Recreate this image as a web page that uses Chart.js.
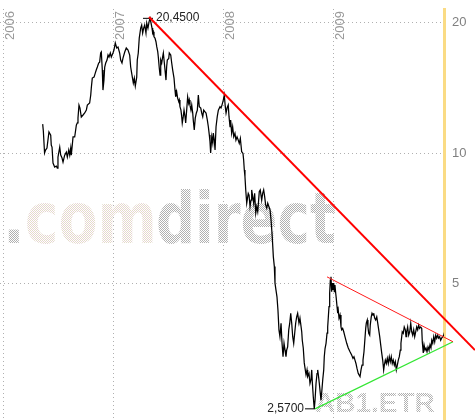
<!DOCTYPE html>
<html>
<head>
<meta charset="utf-8">
<script src="https://cdn.jsdelivr.net/npm/chart.js@4"></script>
<style>
  html, body { margin: 0; padding: 0; background: #fff; }
  #wrap { width: 475px; height: 420px; position: relative; }
</style>
</head>
<body>
<div id="wrap"><canvas id="chart_canvas"></canvas></div>
<script>
// daily closes, time as decimal year
const priceT = [
2006.358,2006.364,2006.375,2006.384,2006.397,2006.415,2006.431,2006.436,2006.443,2006.452,
2006.467,2006.482,2006.491,2006.497,2006.513,2006.522,2006.534,2006.543,2006.558,2006.573,
2006.582,2006.595,2006.604,2006.613,2006.618,2006.627,2006.634,2006.649,2006.664,2006.673,
2006.679,2006.688,2006.697,2006.709,2006.725,2006.740,2006.755,2006.764,2006.785,2006.795,
2006.800,2006.809,2006.825,2006.836,2006.845,2006.855,2006.867,2006.876,2006.885,2006.891,
2006.900,2006.906,2006.915,2006.922,2006.931,2006.943,2006.952,2006.961,2006.973,2006.982,
2006.997,2007.006,2007.018,2007.031,2007.043,2007.058,2007.067,2007.079,2007.088,2007.104,
2007.118,2007.134,2007.149,2007.158,2007.167,2007.182,2007.191,2007.200,2007.213,2007.218,
2007.227,2007.236,2007.249,2007.258,2007.267,2007.276,2007.285,2007.297,2007.304,2007.315,
2007.325,2007.334,2007.343,2007.352,2007.358,2007.364,2007.370,2007.379,2007.388,2007.395,
2007.404,2007.409,2007.418,2007.425,2007.431,2007.440,2007.449,2007.455,2007.464,2007.473,
2007.479,2007.485,2007.491,2007.504,2007.509,2007.522,2007.531,2007.540,2007.552,2007.561,
2007.567,2007.576,2007.585,2007.595,2007.600,2007.606,2007.615,2007.622,2007.627,2007.636,
2007.643,2007.652,2007.658,2007.667,2007.676,2007.685,2007.691,2007.697,2007.706,2007.713,
2007.722,2007.727,2007.736,2007.745,2007.755,2007.764,2007.773,2007.782,2007.795,2007.804,
2007.813,2007.822,2007.834,2007.843,2007.855,2007.864,2007.873,2007.879,2007.885,2007.895,
2007.904,2007.909,2007.918,2007.925,2007.934,2007.945,2007.955,2007.970,2007.979,2007.988,
2008.000,2008.009,2008.018,2008.025,2008.034,2008.045,2008.052,2008.061,2008.067,2008.076,
2008.085,2008.095,2008.106,2008.115,2008.125,2008.136,2008.145,2008.155,2008.167,2008.179,
2008.185,2008.191,2008.197,2008.204,2008.213,2008.222,2008.227,2008.234,2008.243,2008.252,
2008.258,2008.267,2008.276,2008.285,2008.295,2008.304,2008.313,2008.318,2008.327,2008.336,
2008.349,2008.358,2008.367,2008.376,2008.385,2008.395,2008.404,2008.415,2008.425,2008.434,
2008.445,2008.455,2008.464,2008.470,2008.479,2008.488,2008.497,2008.506,2008.515,2008.525,
2008.534,2008.543,2008.552,2008.561,2008.570,2008.576,2008.585,2008.595,2008.604,2008.613,
2008.622,2008.631,2008.640,2008.649,2008.658,2008.667,2008.676,2008.688,2008.697,2008.713,
2008.718,2008.727,2008.736,2008.743,2008.752,2008.761,2008.767,2008.779,2008.788,2008.797,
2008.804,2008.809,2008.818,2008.827,2008.834,2008.843,2008.852,2008.858,2008.864,2008.873,
2008.882,2008.888,2008.895,2008.904,2008.913,2008.918,2008.925,2008.934,2008.943,2008.949,
2008.955,2008.961,2008.967,2008.973,2008.979,2008.985,2008.991,2008.997,2009.004,2009.009,
2009.015,2009.022,2009.027,2009.034,2009.040,2009.045,2009.052,2009.061,2009.070,2009.076,
2009.085,2009.095,2009.106,2009.122,2009.136,2009.152,2009.167,2009.179,2009.188,2009.197,
2009.206,2009.215,2009.227,2009.243,2009.252,2009.261,2009.270,2009.279,2009.288,2009.295,
2009.300,2009.309,2009.315,2009.322,2009.331,2009.336,2009.345,2009.352,2009.361,2009.367,
2009.376,2009.385,2009.395,2009.404,2009.413,2009.422,2009.431,2009.440,2009.449,2009.458,
2009.464,2009.473,2009.482,2009.491,2009.500,2009.509,2009.518,2009.527,2009.536,2009.545,
2009.555,2009.564,2009.573,2009.582,2009.591,2009.600,2009.609,2009.615,2009.622,2009.627,
2009.636,2009.645,2009.655,2009.661,2009.667,2009.676,2009.685,2009.695,2009.704,2009.713,
2009.722,2009.731,2009.740,2009.749,2009.758,2009.767,2009.776,2009.785,2009.795,2009.804,
2009.809,2009.818,2009.825,2009.834,2009.843,2009.852,2009.861,2009.870,2009.879,2009.888,
2009.895,2009.904,2009.913,2009.922,2009.931,2009.940,2009.949,2009.958,2009.967,2009.976,
2009.985,2009.995,2010.004,2010.013,2010.018,2010.022
];
const priceV = [
11.66,11.24,10.00,10.16,10.27,11.18,11.00,10.43,10.32,9.48,
9.28,9.33,9.23,9.79,10.32,9.89,9.74,9.53,9.89,10.05,
9.79,10.16,9.89,10.27,9.89,10.43,10.89,10.89,11.60,11.73,
12.04,12.90,12.70,12.11,12.24,12.37,12.57,12.90,13.04,13.61,
14.12,14.89,14.97,15.29,15.54,15.79,16.13,16.21,17.01,17.10,
15.54,13.97,14.73,15.79,16.13,16.39,16.83,16.65,17.01,16.65,
17.01,17.28,17.94,17.47,17.56,17.01,16.39,16.13,16.56,17.10,
17.47,17.28,16.83,15.79,15.29,14.50,14.89,14.27,14.97,16.39,
17.01,18.42,19.42,19.73,18.91,19.42,19.73,18.91,19.95,19.42,
20.08,20.45,19.95,19.42,18.91,19.04,18.54,18.42,18.06,17.59,
17.13,16.68,15.71,15.13,16.39,16.13,16.68,17.01,16.13,15.29,
14.73,15.81,16.39,16.53,17.01,16.83,16.13,15.54,14.89,13.97,
13.48,13.85,13.39,13.13,13.25,12.79,12.56,12.13,11.73,12.13,
12.56,12.13,11.73,12.56,13.48,13.04,13.25,12.90,12.56,12.90,
12.37,11.91,11.30,12.04,12.37,12.56,13.61,12.79,12.70,12.37,
12.13,12.56,12.45,12.37,11.91,11.50,11.00,10.62,10.00,10.90,
10.55,11.12,10.71,10.16,11.50,12.13,12.56,12.79,12.70,12.90,
13.25,13.61,12.79,12.37,12.70,12.90,12.13,11.50,11.91,11.12,
11.50,10.90,11.10,10.71,10.90,10.71,10.53,10.81,10.07,9.98,
9.64,9.14,8.82,8.22,7.66,7.93,8.07,8.00,7.52,7.79,
8.22,7.93,7.66,8.07,7.26,7.52,7.32,7.59,8.14,8.22,
7.79,8.07,8.22,7.93,7.59,7.46,7.66,7.52,7.39,7.01,
6.41,5.76,5.47,5.01,4.83,4.66,4.34,3.91,3.77,4.05,
3.64,3.39,3.64,3.51,3.39,3.51,3.57,3.91,4.05,4.27,
4.05,3.77,3.64,3.84,4.05,4.19,4.27,4.05,4.16,3.87,
3.70,3.55,3.28,3.19,3.08,3.16,3.05,3.10,2.94,3.00,
3.16,2.97,2.74,2.57,2.69,2.94,3.10,3.16,3.08,2.94,
2.79,2.69,2.81,3.00,3.16,3.39,3.54,3.64,3.84,3.97,
4.19,4.42,4.75,5.09,5.18,4.79,5.01,4.83,5.01,4.79,
4.96,4.75,4.62,4.42,4.27,4.34,4.16,4.23,3.97,3.91,
3.94,3.87,3.77,3.64,3.55,3.48,3.42,3.36,3.39,3.33,
3.27,3.19,3.10,3.05,3.16,3.24,3.33,3.48,3.74,3.95,
4.05,4.12,3.97,3.84,3.80,4.01,4.19,4.27,4.23,4.27,
4.16,4.12,4.19,4.05,3.91,3.77,3.61,3.46,3.33,3.16,
3.24,3.33,3.27,3.36,3.27,3.39,3.30,3.39,3.27,3.33,
3.24,3.30,3.16,3.24,3.33,3.39,3.51,3.64,3.77,3.87,
3.84,3.97,3.91,3.77,3.87,3.97,3.80,3.87,4.05,3.87,
3.80,3.91,3.77,3.87,3.97,3.91,4.01,3.94,3.97,3.94,
3.67,3.46,3.61,3.51,3.55,3.48,3.57,3.51,3.61,3.55,
3.70,3.64,3.77,3.67,3.80,3.74,3.80,3.74,3.77,3.70,
3.74,3.77,3.80,3.87,3.97,4.01
];

// trend lines
const trendT = [2007.325, 2010.288];
const trendV = [20.6, 3.51];
const wedgeTopT = [2008.943, 2010.088];
const wedgeTopV = [5.18, 3.67];
const wedgeLowT = [2008.834, 2010.088];
const wedgeLowV = [2.57, 3.67];

// high / low markers
const highT = [2007.270, 2007.361];
const highV = 20.45;
const highLabel = "20,4500";
const lowT = [2008.743, 2008.834];
const lowV = 2.57;
const lowLabel = "2,5700";

const yearTicks = [2006, 2007, 2008, 2009];
const yearLabels = ["2006", "2007", "2008", "2009"];
const priceTicks = [5, 10, 20];
const symbol = "AB1.ETR";
const brand = [".", "com", "direct"];

const sans = '"Liberation Sans", Arial, sans-serif';

function pts(ts, vs)
{
  return ts.map((t, i) => ({x: t, y: Array.isArray(vs) ? vs[i] : vs}));
}

// 2x2 checker tile, like the dithered watermark
function checker(c1, c2)
{
  const p = document.createElement("canvas");
  p.width = 2; p.height = 2;
  const g = p.getContext("2d");
  g.fillStyle = c1; g.fillRect(0, 0, 1, 1);
  g.fillStyle = c2; g.fillRect(1, 1, 1, 1);
  return p;
}

function patternText(ctx, canvas, tile, drawFn)
{
  const off = document.createElement("canvas");
  off.width = canvas.width; off.height = canvas.height;
  const o = off.getContext("2d");
  o.fillStyle = "#000";
  drawFn(o);
  o.setTransform(1, 0, 0, 1, 0, 0);
  o.globalCompositeOperation = "source-in";
  o.fillStyle = o.createPattern(tile, "repeat");
  o.fillRect(0, 0, off.width, off.height);
  ctx.drawImage(off, 0, 0);
}

const decorations = {
  id: "decorations",
  beforeDatasetsDraw(chart)
  {
    const ctx = chart.ctx;
    const xs = chart.scales.x;
    const grey = checker("#b0b0b0", "#b0b0b0");
    const pale = checker("#e4dcc8", "#e6d4d4");

    // .comdirect watermark, ".com" and "direct" fitted separately
    const font = 'bold 72px "DejaVu Sans"';
    ctx.save();
    ctx.font = font;
    const w0 = ctx.measureText(brand[0]).width;
    const w1 = ctx.measureText(brand[1]).width;
    const w2 = ctx.measureText(brand[2]).width;
    ctx.restore();
    const sa = 154 / (w0 + w1);
    const sb = 180 / w2;
    patternText(ctx, chart.canvas, grey, o => {
      o.font = font;
      o.setTransform(sa, 0, 0, 1, 3, 243); o.fillText(brand[0], 0, 0);
      o.setTransform(sb, 0, 0, 1, 156, 243); o.fillText(brand[2], 0, 0);
    });
    patternText(ctx, chart.canvas, pale, o => {
      o.font = font;
      o.setTransform(sa, 0, 0, 1, 3, 243); o.fillText(brand[1], w0, 0);
    });

    // symbol watermark
    patternText(ctx, chart.canvas, grey, o => {
      o.font = "bold 28px " + sans;
      o.fillText(symbol, 315, 412);
    });

    // year labels, vertical
    ctx.save();
    ctx.font = "13px " + sans;
    ctx.fillStyle = "#999999";
    ctx.textAlign = "left";
    ctx.textBaseline = "alphabetic";
    yearTicks.forEach((y, i) => {
      ctx.save();
      ctx.translate(xs.getPixelForValue(y) + 10.5, 40);
      ctx.rotate(-Math.PI / 2);
      ctx.fillText(yearLabels[i], 0, 0);
      ctx.restore();
    });
    ctx.restore();
  },
  afterDatasetsDraw(chart)
  {
    const ctx = chart.ctx;
    const xs = chart.scales.x, ys = chart.scales.y;
    ctx.save();
    ctx.font = "12px " + sans;
    ctx.fillStyle = "#222222";
    ctx.textBaseline = "middle";
    ctx.textAlign = "left";
    ctx.fillText(highLabel, xs.getPixelForValue(highT[1]) + 3, ys.getPixelForValue(highV) - 0.5);
    ctx.textAlign = "right";
    ctx.fillText(lowLabel, xs.getPixelForValue(lowT[0]) - 1, ys.getPixelForValue(lowV) - 0.5);
    ctx.restore();
  }
};

const config = {
  type: "line",
  data: {
    datasets: [
      {data: pts(trendT, trendV), borderColor: "#ff0000", borderWidth: 2, clip: false},
      {data: pts(wedgeTopT, wedgeTopV), borderColor: "#ff1a1a", borderWidth: 1, clip: false},
      {data: pts(wedgeLowT, wedgeLowV), borderColor: "#33e633", borderWidth: 1.3, clip: false},
      {data: pts(highT, highV), borderColor: "#000000", borderWidth: 1},
      {data: pts(lowT, lowV), borderColor: "#000000", borderWidth: 1, clip: false},
      {data: pts(priceT, priceV), borderColor: "#000000", borderWidth: 1.25}
    ]
  },
  options: {
    responsive: true,
    maintainAspectRatio: false,
    animation: false,
    events: [],
    layout: {padding: {top: 9, right: 0, bottom: 0, left: 0}},
    plugins: {legend: {display: false}, tooltip: {enabled: false}},
    elements: {point: {radius: 0}, line: {tension: 0, fill: false}},
    scales: {
      x: {
        type: "linear",
        min: 2005.97,
        max: 2010.0064,
        bounds: "data",
        afterBuildTicks: s => { s.ticks = yearTicks.map(v => ({value: v})); },
        afterFit: s => { s.height = 0; s.paddingLeft = 0; s.paddingRight = 0; },
        ticks: {display: false},
        border: {display: false, dash: [1, 3]},
        grid: {color: "#b0b0b0", drawTicks: false}
      },
      y: {
        type: "logarithmic",
        position: "right",
        min: 2.422,
        max: 21.49,
        bounds: "data",
        afterBuildTicks: s => { s.ticks = priceTicks.map(v => ({value: v})); },
        afterFit: s => { s.width = 31; s.paddingTop = 0; s.paddingBottom = 0; },
        ticks: {
          padding: 8,
          color: "#808080",
          font: {family: sans, size: 13},
          callback: v => String(v)
        },
        border: {display: true, color: "#fadb84", width: 3, dash: [1, 3]},
        grid: {color: "#b0b0b0", drawTicks: false}
      }
    }
  },
  plugins: [decorations]
};

new Chart(document.getElementById("chart_canvas"), config);
</script>
</body>
</html>
